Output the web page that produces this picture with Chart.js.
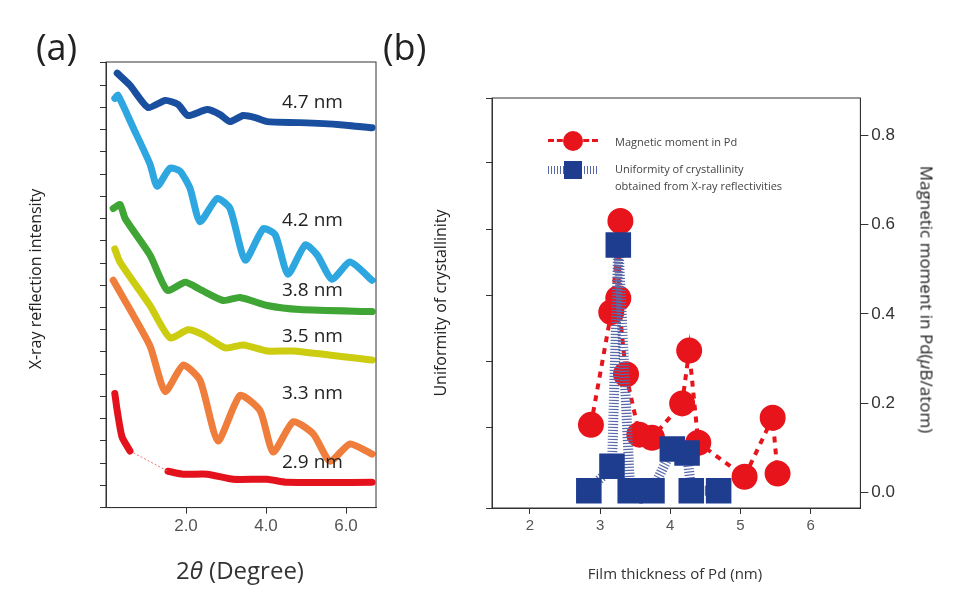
<!DOCTYPE html>
<html>
<head>
<meta charset="utf-8">
<script src="https://cdn.jsdelivr.net/npm/chart.js@4"></script>
<style>
  body { margin: 0; background: #fff; font-family: "Open Sans", "Noto Sans", sans-serif; }
  #wrap { position: relative; width: 960px; height: 610px; overflow: hidden; }
  canvas { position: absolute; top: 0; }
  .t { position: absolute; color: #222; white-space: nowrap; }
  .rot { transform-origin: center; }
</style>
</head>
<body>
<div id="wrap">
  <canvas id="chartA" width="400" height="610" style="left:0;width:400px;height:610px"></canvas>
  <canvas id="chartB" width="560" height="610" style="left:400px;width:560px;height:610px"></canvas>

  <div class="t" style="left:36px;top:22px;font-size:36px">(a)</div>
  <div class="t" style="left:383px;top:22px;font-size:36px">(b)</div>

  <div class="t rot" style="left:-70px;top:268px;width:210px;text-align:center;font-size:16px;transform:rotate(-90deg)">X-ray reflection intensity</div>
  <div class="t" style="left:120px;top:553px;width:240px;text-align:center;font-size:24px;color:#333">2<i>θ</i> (Degree)</div>

  <div class="t" style="left:282px;top:88px;font-size:19px">4.7 nm</div>
  <div class="t" style="left:282px;top:206px;font-size:19px">4.2 nm</div>
  <div class="t" style="left:282px;top:276px;font-size:19px">3.8 nm</div>
  <div class="t" style="left:282px;top:322px;font-size:19px">3.5 nm</div>
  <div class="t" style="left:282px;top:379px;font-size:19px">3.3 nm</div>
  <div class="t" style="left:282px;top:448px;font-size:19px">2.9 nm</div>

  <div class="t rot" style="left:330px;top:292px;width:220px;text-align:center;font-size:16px;transform:rotate(-90deg)">Uniformity of crystallinity</div>
  <div class="t rot" style="left:772px;top:288px;width:310px;text-align:center;font-size:17px;transform:rotate(90deg)">Magnetic moment in Pd(<i>μ</i>B/atom)</div>
  <div class="t" style="left:535px;top:563px;width:280px;text-align:center;font-size:15px;color:#333">Film thickness of Pd (nm)</div>

  <div class="t" style="left:548px;top:139px;width:50px;border-top:3px dashed #e8141c"></div>
  <div class="t" style="left:563px;top:131px;width:20px;height:20px;border-radius:50%;background:#e8141c"></div>
  <div class="t" style="left:615px;top:134px;font-size:11px;color:#444">Magnetic moment in Pd</div>
  <div class="t" style="left:548px;top:166px;width:50px;height:8px;background:repeating-linear-gradient(90deg,#5a6aa8 0 1px,transparent 1px 3px)"></div>
  <div class="t" style="left:564px;top:161px;width:18px;height:18px;background:#1f3d8f"></div>
  <div class="t" style="left:615px;top:160px;font-size:11px;color:#444;line-height:17px">Uniformity of crystallinity<br>obtained from X-ray reflectivities</div>
</div>
<script>
// ---- panel (a): X-ray reflectivity curves (arbitrary offset intensity) ----
const x47 = [0.28, 0.6, 1.05, 1.48, 1.8, 2.05, 2.53, 2.85, 3.1, 3.43, 3.73, 4.03, 4.85, 5.85, 6.65];
const y47 = [430, 418, 396, 403, 399, 388, 394, 389, 382, 388, 386, 382, 381, 379, 376];
const x42 = [0.22, 0.3, 0.68, 1.1, 1.28, 1.6, 1.85, 2.1, 2.35, 2.78, 3.1, 3.48, 3.93, 4.23, 4.55, 4.98, 5.28, 5.65, 6.1, 6.65];
const y42 = [405, 408, 376, 340, 318, 336, 333, 316, 283, 306, 296, 245, 276, 270, 231, 260, 250, 226, 243, 225];
const x38 = [0.18, 0.35, 0.48, 1.1, 1.53, 1.98, 2.35, 2.93, 3.35, 4.03, 4.85, 6.65];
const y38 = [296, 300, 286, 250, 215, 223, 216, 205, 208, 200, 196, 194];
const x35 = [0.22, 0.35, 1.1, 1.6, 2.05, 2.43, 2.98, 3.43, 4.03, 4.68, 6.65];
const y35 = [256, 243, 200, 168, 176, 171, 158, 161, 155, 155, 146];
const x33 = [0.18, 0.6, 1.1, 1.48, 1.93, 2.35, 2.8, 3.35, 3.85, 4.18, 4.68, 5.18, 5.6, 6.1, 6.65];
const y33 = [225, 196, 160, 115, 141, 126, 66, 111, 96, 55, 85, 73, 46, 63, 53];
const x29a = [0.22, 0.28, 0.4, 0.6];
const y29a = [113, 96, 70, 56];
const x29b = [1.55, 1.93, 2.53, 3.18, 4.03, 4.53, 6.65];
const y29b = [36, 33, 33, 28, 28, 25, 25];

// ---- panel (b) ----
const thickMag = [2.87, 3.16, 3.29, 3.26, 3.37, 3.56, 3.74, 4.17, 4.27, 4.4, 5.06, 5.46, 5.53];
const magMoment = [0.152, 0.404, 0.608, 0.435, 0.265, 0.13, 0.123, 0.2, 0.318, 0.112, 0.036, 0.168, 0.043];
const thickUni = [2.84, 3.17, 3.26, 3.43, 3.74, 4.03, 4.24, 4.3, 4.69];
const uniformity = [0.05, 0.42, 3.76, 0.05, 0.05, 0.68, 0.62, 0.05, 0.05];
const xTicksA = [2, 4, 6];
const xTicksB = [2, 3, 4, 5, 6];
const yTicksRight = [0, 0.2, 0.4, 0.6, 0.8];

const pts = (xs, ys) => xs.map((x, i) => ({ x: x, y: ys[i] }));

const frame = {
  id: "frame",
  afterDraw(chart) {
    const { ctx, chartArea: a } = chart;
    ctx.save();
    ctx.strokeStyle = "#333";
    ctx.lineWidth = 1;
    ctx.strokeRect(a.left, a.top, a.right - a.left, a.bottom - a.top);
    ctx.restore();
  },
};

function curve(xs, ys, color) {
  return {
    data: pts(xs, ys), borderColor: color, borderWidth: 7, pointRadius: 0,
    tension: 0.2, borderCapStyle: "round", borderJoinStyle: "round",
  };
}

new Chart(document.getElementById("chartA"), {
  type: "line",
  data: {
    datasets: [
      curve(x47, y47, "#1a4fa0"),
      curve(x42, y42, "#2ea6e0"),
      curve(x38, y38, "#3fa535"),
      curve(x35, y35, "#cccc10"),
      curve(x33, y33, "#ef7d3c"),
      curve(x29a, y29a, "#e3121c"),
      { data: [{ x: x29a[3], y: y29a[3] }, { x: x29b[0], y: y29b[0] }], borderColor: "#f07070", borderWidth: 1, borderDash: [2, 2], pointRadius: 0 },
      curve(x29b, y29b, "#e3121c"),
    ],
  },
  options: {
    responsive: false, animation: false,
    layout: { padding: { left: 100, top: 62, right: 24, bottom: 70 } },
    plugins: { legend: { display: false }, tooltip: { enabled: false } },
    scales: {
      x: {
        type: "linear", min: 0, max: 6.75,
        afterBuildTicks: (s) => { s.ticks = xTicksA.map((v) => ({ value: v })); },
        grid: { drawOnChartArea: false, tickLength: 6, color: "#333" },
        border: { color: "#333" },
        ticks: { color: "#555", font: { size: 17 }, callback: (v) => v.toFixed(1) },
      },
      y: {
        min: 0, max: 441,
        grid: { drawOnChartArea: false, tickLength: 6, color: "#333" },
        border: { color: "#333" },
        ticks: { display: false, stepSize: 22 },
      },
    },
  },
  plugins: [frame],
});

new Chart(document.getElementById("chartB"), {
  type: "line",
  data: {
    datasets: [
      {
        data: pts(thickUni, uniformity), yAxisID: "yL",
        borderColor: "#5a6aa8", borderWidth: 10, borderDash: [1.2, 1.8],
        pointStyle: "rect", pointRadius: 11, pointBackgroundColor: "#1f3d8f", pointBorderColor: "#1f3d8f",
      },
      {
        data: pts(thickMag, magMoment), yAxisID: "yR",
        borderColor: "#e8141c", borderWidth: 4, borderDash: [6, 6],
        pointRadius: 11, pointBackgroundColor: "#e8141c", pointBorderColor: "#e8141c",
      },
    ],
  },
  options: {
    responsive: false, animation: false,
    layout: { padding: { left: 86, top: 98, right: 62, bottom: 72 } },
    plugins: { legend: { display: false }, tooltip: { enabled: false } },
    scales: {
      x: {
        type: "linear", min: 1.46, max: 6.71,
        afterBuildTicks: (s) => { s.ticks = xTicksB.map((v) => ({ value: v })); },
        grid: { drawOnChartArea: false, tickLength: 6, color: "#333" },
        border: { color: "#333" },
        ticks: { color: "#555", font: { size: 15 } },
      },
      yL: {
        position: "left", min: -0.21, max: 5.98,
        grid: { drawOnChartArea: false, tickLength: 6, color: "#333" },
        border: { color: "#333" },
        ticks: { display: false, stepSize: 1 },
      },
      yR: {
        position: "right", min: -0.034, max: 0.883,
        afterBuildTicks: (s) => { s.ticks = yTicksRight.map((v) => ({ value: v })); },
        grid: { drawOnChartArea: false, tickLength: 8, color: "#333" },
        border: { color: "#333" },
        ticks: { color: "#333", font: { size: 17 }, callback: (v) => v.toFixed(1) },
      },
    },
  },
  plugins: [frame],
});
</script>
</body>
</html>
